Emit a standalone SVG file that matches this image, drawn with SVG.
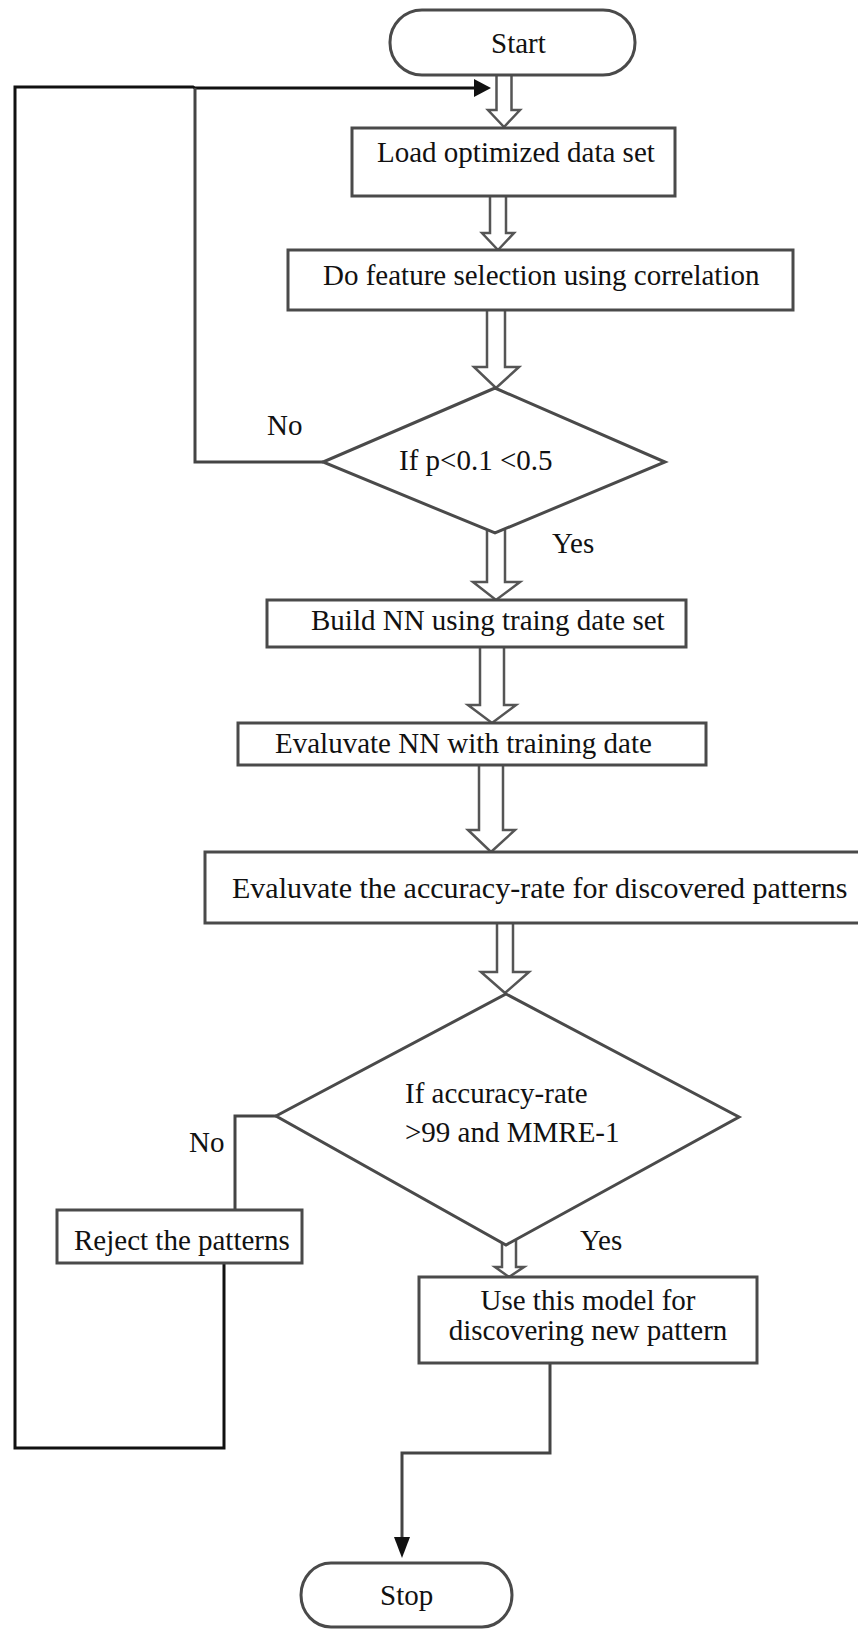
<svg xmlns="http://www.w3.org/2000/svg" width="858" height="1629" viewBox="0 0 858 1629">
<style>
.box{fill:#fff;stroke:#4a4a4a;stroke-width:3}
.t{font-family:"Liberation Serif","Times New Roman",serif;font-size:29px;fill:#111}
.ha{fill:#fff;stroke:#555;stroke-width:2.5;stroke-linejoin:miter}
.ln{fill:none;stroke:#444;stroke-width:3}
.blk{fill:none;stroke:#111;stroke-width:3}
</style>
<rect width="858" height="1629" fill="#fff"/>
<g id="connectors">
  <path class="ha" d="M496.5,74 V110 H488 L504,127 L520,110 H511.5 V74"/>
  <path class="ha" d="M490,196 V233 H482 L498,250 L514,233 H506 V196"/>
  <path class="ha" d="M487,309 V367 H474 L496,388 L519,367 H505 V309"/>
  <path class="ha" d="M487,530 V582 H473 L496,600 L520,582 H505 V530"/>
  <path class="ha" d="M480,646 V705 H468 L492,723 L516,705 H504 V646"/>
  <path class="ha" d="M479,764 V830 H468 L491,852 L515,830 H503 V764"/>
  <path class="ha" d="M497,922 V972 H481 L505,993 L529,972 H513 V922"/>
  <path class="ha" d="M502,1240 V1267 H495 L509,1277 L524,1267 H516 V1240"/>
  <path class="blk" d="M224,1263 V1448 H15 V87 H193 L195,88 H476"/>
  <polygon points="474,79 491,88 474,97" fill="#111"/>
  <path class="ln" d="M323,462 H195 V88"/>
  <path class="ln" d="M276,1116 H235 V1210"/>
  <path class="ln" d="M550,1363 V1453 H402 V1538"/>
  <polygon points="394,1537 410,1537 402,1558" fill="#111"/>
  <text class="t" x="267" y="435">No</text>
  <text class="t" x="552" y="553">Yes</text>
  <text class="t" x="189" y="1152">No</text>
  <text class="t" x="580" y="1250">Yes</text>
</g>
<g id="start">
  <rect class="box" x="390" y="10" width="245" height="65" rx="32" ry="32"/>
  <text class="t" x="491" y="53">Start</text>
</g>
<g id="load">
  <rect class="box" x="352" y="128" width="323" height="68"/>
  <text class="t" x="377" y="162">Load optimized data set</text>
</g>
<g id="feature">
  <rect class="box" x="288" y="250" width="505" height="60"/>
  <text class="t" x="323" y="285">Do feature selection using correlation</text>
</g>
<g id="decision1">
  <polygon class="box" points="495,388 665,462 495,533 323,462"/>
  <text class="t" x="399" y="470">If p&lt;0.1 &lt;0.5</text>
</g>
<g id="build">
  <rect class="box" x="267" y="600" width="419" height="47"/>
  <text class="t" x="311" y="630">Build NN using traing date set</text>
</g>
<g id="evalnn">
  <rect class="box" x="238" y="723" width="468" height="42"/>
  <text class="t" x="275" y="753">Evaluvate NN with training date</text>
</g>
<g id="evalacc">
  <rect class="box" x="205" y="852" width="660" height="71"/>
  <text class="t" x="232" y="898" style="font-size:30px">Evaluvate the accuracy-rate for discovered patterns</text>
</g>
<g id="decision2">
  <polygon class="box" points="506,994 739,1117 506,1245 276,1116"/>
  <text class="t" x="405" y="1103">If accuracy-rate</text>
  <text class="t" x="405" y="1142">&gt;99 and MMRE-1</text>
</g>
<g id="reject">
  <rect class="box" x="57" y="1210" width="245" height="53"/>
  <text class="t" x="74" y="1250">Reject the patterns</text>
</g>
<g id="use">
  <rect class="box" x="419" y="1277" width="338" height="86"/>
  <text class="t" x="588" y="1310" text-anchor="middle">Use this model for</text>
  <text class="t" x="588" y="1340" text-anchor="middle">discovering new pattern</text>
</g>
<g id="stop">
  <rect class="box" x="301" y="1563" width="211" height="64" rx="30" ry="32"/>
  <text class="t" x="380" y="1605">Stop</text>
</g>
</svg>
